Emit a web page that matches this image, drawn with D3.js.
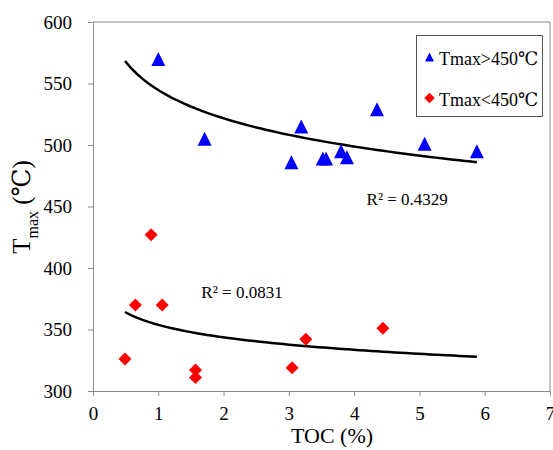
<!DOCTYPE html>
<html>
<head>
<meta charset="utf-8">
<script src="https://cdn.jsdelivr.net/npm/d3@7"></script>
<style>
  body { margin: 0; background: #fff; }
  svg text { font-family: "Liberation Serif", "DejaVu Serif", serif; fill: #000; }
</style>
</head>
<body>
<svg id="chart" width="553" height="450"></svg>
<script>
// TOC (%) vs Tmax, two groups
const highToc = [1.0, 1.71, 3.04, 3.19, 3.52, 3.57, 3.80, 3.89, 4.35, 5.08, 5.88];
const highTmax = [570, 505, 486, 515, 489, 489, 495, 490, 529, 501, 495];
const lowToc = [0.49, 0.65, 0.89, 1.06, 1.57, 1.57, 3.05, 3.26, 4.44];
const lowTmax = [326, 370, 427, 370, 317, 311, 319, 342, 351];
const xTicks = [0, 1, 2, 3, 4, 5, 6, 7];
const yTicks = [300, 350, 400, 450, 500, 550, 600];
const seriesNames = ['Tmax>450℃', 'Tmax<450℃'];
const r2Labels = ['R² = 0.4329', 'R² = 0.0831'];

const width = 553;
const height = 450;
const margin = { top: 22, right: 3, bottom: 59, left: 93 };
const axisColor = '#8a8a8a';
const serif = '"Liberation Serif", "DejaVu Serif", serif';

const svg = d3.select('#chart').attr('font-family', serif);

const x = d3.scaleLinear().domain([0, 7]).range([margin.left, width - margin.right]);
const y = d3.scaleLinear().domain([300, 600]).range([height - margin.bottom, margin.top]);

// markers
const triangle = {
  draw(ctx, size) {
    const h = Math.sqrt(size) / 2;
    ctx.moveTo(0, -h);
    ctx.lineTo(h, h);
    ctx.lineTo(-h, h);
    ctx.closePath();
  }
};
const diamond = {
  draw(ctx, size) {
    const h = Math.sqrt(size) / 2;
    ctx.moveTo(0, -h);
    ctx.lineTo(h, 0);
    ctx.lineTo(0, h);
    ctx.lineTo(-h, 0);
    ctx.closePath();
  }
};

// frame (top + right)
svg.append('path')
  .attr('d', `M${x(0)},${y(600)}H${x(7)}V${y(300)}`)
  .attr('fill', 'none')
  .attr('stroke', axisColor);

// axes
const xAxis = svg.append('g')
  .attr('transform', `translate(0,${y(300)})`)
  .call(d3.axisBottom(x).tickValues(xTicks).tickFormat(d3.format('d'))
    .tickSize(5).tickSizeOuter(0).tickPadding(11));
const yAxis = svg.append('g')
  .attr('transform', `translate(${x(0)},0)`)
  .call(d3.axisLeft(y).tickValues(yTicks).tickFormat(d3.format('d'))
    .tickSize(5).tickSizeOuter(0).tickPadding(16));

[xAxis, yAxis].forEach(g => {
  g.attr('font-family', serif).attr('font-size', 19);
  g.select('.domain').attr('stroke', axisColor);
  g.selectAll('.tick line').attr('stroke', axisColor);
  g.selectAll('.tick text').attr('fill', '#000');
});

// log trendlines (Excel style), fitted from the points
function logFit(xs, ys) {
  const lx = xs.map(Math.log);
  const mx = d3.mean(lx);
  const my = d3.mean(ys);
  const b = d3.sum(lx, (v, i) => (v - mx) * (ys[i] - my)) / d3.sum(lx, v => (v - mx) ** 2);
  return t => my + b * (Math.log(t) - mx);
}
const span = d3.extent(highToc.concat(lowToc));
const steps = d3.range(0, 61).map(i => span[0] + (span[1] - span[0]) * i / 60);

const line = d3.line().x(d => x(d[0])).y(d => y(d[1]));
[[highToc, highTmax], [lowToc, lowTmax]].forEach(([xs, ys]) => {
  const f = logFit(xs, ys);
  svg.append('path')
    .datum(steps.map(t => [t, f(t)]))
    .attr('d', line)
    .attr('fill', 'none')
    .attr('stroke', '#000')
    .attr('stroke-width', 2.5);
});

// points
svg.append('g').selectAll('path')
  .data(highToc.map((t, i) => [t, highTmax[i]]))
  .join('path')
  .attr('transform', d => `translate(${x(d[0])},${y(d[1])})`)
  .attr('d', d3.symbol(triangle, 196))
  .attr('fill', '#0000ff');

svg.append('g').selectAll('path')
  .data(lowToc.map((t, i) => [t, lowTmax[i]]))
  .join('path')
  .attr('transform', d => `translate(${x(d[0])},${y(d[1])})`)
  .attr('d', d3.symbol(diamond, 169))
  .attr('fill', '#ff0000');

// R² labels
svg.append('text')
  .attr('x', x(4.19)).attr('y', y(451.5))
  .attr('font-size', 17)
  .text(r2Labels[0]);
svg.append('text')
  .attr('x', x(1.66)).attr('y', y(376))
  .attr('font-size', 17)
  .text(r2Labels[1]);

// legend
const legend = svg.append('g');
legend.append('rect')
  .attr('x', 416.5).attr('y', 35.5)
  .attr('width', 126).attr('height', 81)
  .attr('fill', '#fff')
  .attr('stroke', '#555');
const legendItems = [
  { name: seriesNames[0], shape: triangle, size: 81, color: '#0000ff' },
  { name: seriesNames[1], shape: diamond, size: 110, color: '#ff0000' }
];
legendItems.forEach((d, i) => {
  const cy = 57 + i * 41;
  legend.append('path')
    .attr('transform', `translate(429.5,${cy})`)
    .attr('d', d3.symbol(d.shape, d.size))
    .attr('fill', d.color);
  legend.append('text')
    .attr('x', 439).attr('y', cy + 8)
    .attr('font-size', 18.5)
    .attr('textLength', 99)
    .attr('lengthAdjust', 'spacingAndGlyphs')
    .text(d.name);
});

// axis titles
svg.append('text')
  .attr('x', 332).attr('y', 443)
  .attr('text-anchor', 'middle')
  .attr('font-size', 22)
  .text('TOC (%)');

const yTitle = svg.append('text')
  .attr('transform', 'translate(30,207) rotate(-90)')
  .attr('text-anchor', 'middle')
  .attr('font-size', 25);
yTitle.append('tspan').text('T');
yTitle.append('tspan').attr('font-size', 16).attr('dy', 7.5).text('max');
yTitle.append('tspan').attr('dy', -7.5).text(' (℃)');
</script>
</body>
</html>
